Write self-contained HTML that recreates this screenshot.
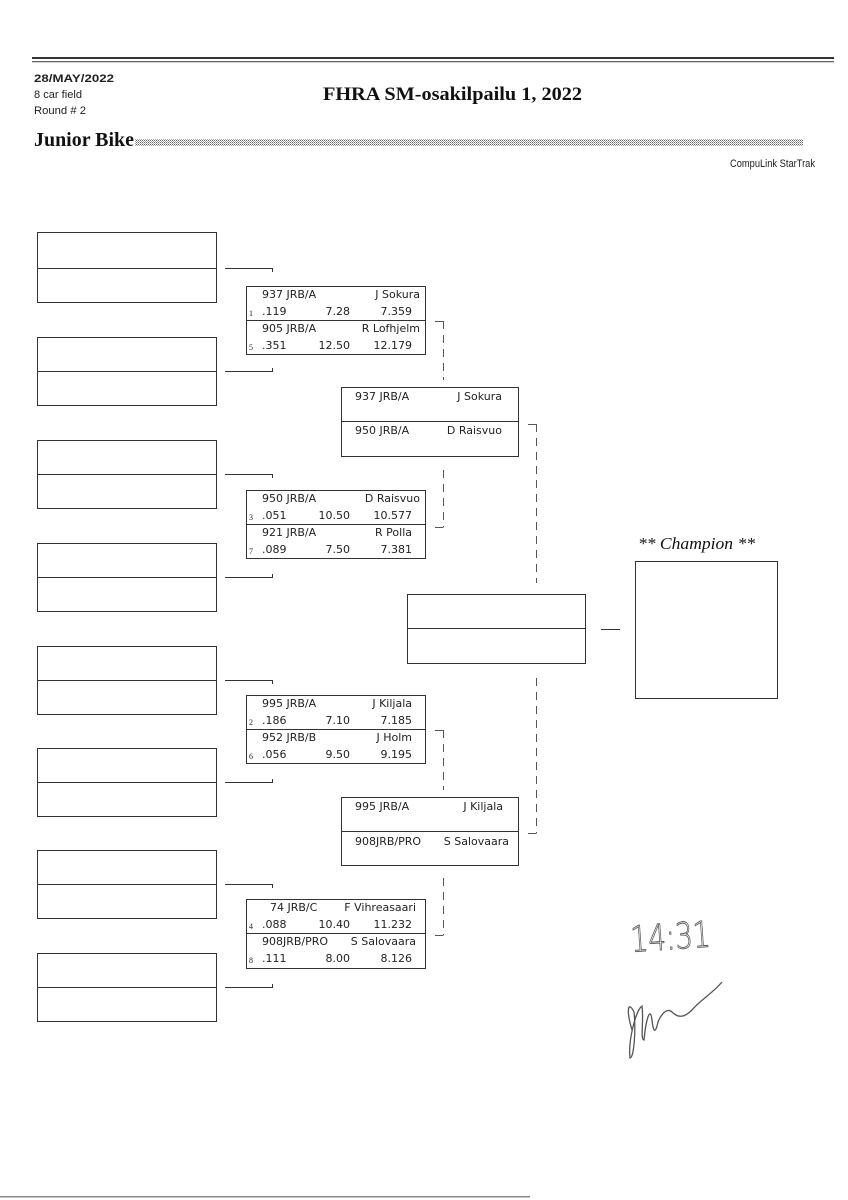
<!DOCTYPE html>
<html><head><meta charset="utf-8"><style>
html,body{margin:0;padding:0;background:#fff;}
svg{display:block;}
.m{font-family:"DejaVu Sans","Liberation Sans",sans-serif;font-size:11px;fill:#222;}
.s{font-family:"Liberation Serif",serif;font-size:8px;fill:#222;}
</style></head><body>
<svg width="848" height="1200" viewBox="0 0 848 1200" xmlns="http://www.w3.org/2000/svg">
<defs>
<pattern id="dots" width="2" height="2" patternUnits="userSpaceOnUse"><rect width="1" height="1" fill="#666"/><rect x="1" y="1" width="1" height="1" fill="#aaa"/></pattern>
</defs>
<rect x="32" y="57" width="802" height="2" fill="#333"/>
<rect x="32" y="61" width="802" height="1.3" fill="#666"/>
<text x="34" y="82" font-family="Liberation Sans,sans-serif" font-weight="bold" font-size="11" fill="#222" textLength="80" lengthAdjust="spacingAndGlyphs">28/MAY/2022</text>
<text x="34" y="98" font-family="Liberation Sans,sans-serif" font-size="11" fill="#222" textLength="48" lengthAdjust="spacingAndGlyphs">8 car field</text>
<text x="34" y="114" font-family="Liberation Sans,sans-serif" font-size="11" fill="#222" textLength="52" lengthAdjust="spacingAndGlyphs">Round # 2</text>
<text x="323" y="100" font-family="Liberation Serif,serif" font-weight="bold" font-size="19" fill="#111" textLength="259" lengthAdjust="spacingAndGlyphs">FHRA SM-osakilpailu 1, 2022</text>
<text x="34" y="146" font-family="Liberation Serif,serif" font-weight="bold" font-size="20" fill="#111" textLength="100" lengthAdjust="spacingAndGlyphs">Junior Bike</text>
<rect x="135" y="139" width="668" height="7" fill="url(#dots)"/>
<text x="815" y="167" text-anchor="end" font-family="Liberation Sans,sans-serif" font-size="11" fill="#222" textLength="85" lengthAdjust="spacingAndGlyphs">CompuLink StarTrak</text>

<g fill="none" stroke="#333" stroke-width="1">
<rect x="37.5" y="232.5" width="179" height="70"/><line x1="37" y1="268.5" x2="216" y2="268.5"/>
<rect x="37.5" y="337.5" width="179" height="68"/><line x1="37" y1="371.5" x2="216" y2="371.5"/>
<rect x="37.5" y="440.5" width="179" height="68"/><line x1="37" y1="474.5" x2="216" y2="474.5"/>
<rect x="37.5" y="543.5" width="179" height="68"/><line x1="37" y1="577.5" x2="216" y2="577.5"/>
<rect x="37.5" y="646.5" width="179" height="68"/><line x1="37" y1="680.5" x2="216" y2="680.5"/>
<rect x="37.5" y="748.5" width="179" height="68"/><line x1="37" y1="782.5" x2="216" y2="782.5"/>
<rect x="37.5" y="850.5" width="179" height="68"/><line x1="37" y1="884.5" x2="216" y2="884.5"/>
<rect x="37.5" y="953.5" width="179" height="68"/><line x1="37" y1="987.5" x2="216" y2="987.5"/>
<path d="M225 268.5H272.5V272"/><path d="M225 371.5H272.5V368"/>
<path d="M225 474.5H272.5V478"/><path d="M225 577.5H272.5V574"/>
<path d="M225 680.5H272.5V684"/><path d="M225 782.5H272.5V779"/>
<path d="M225 884.5H272.5V888"/><path d="M225 987.5H272.5V984"/>
<rect x="246.5" y="286.5" width="179" height="68"/><line x1="246" y1="320.5" x2="425" y2="320.5"/>
<rect x="246.5" y="490.5" width="179" height="68"/><line x1="246" y1="524.5" x2="425" y2="524.5"/>
<rect x="246.5" y="695.5" width="179" height="68"/><line x1="246" y1="729.5" x2="425" y2="729.5"/>
<rect x="246.5" y="899.5" width="179" height="69"/><line x1="246" y1="933.5" x2="425" y2="933.5"/>
<rect x="341.5" y="387.5" width="177" height="69"/><line x1="341" y1="421.5" x2="518" y2="421.5"/>
<rect x="341.5" y="797.5" width="177" height="68"/><line x1="341" y1="831.5" x2="518" y2="831.5"/>
<rect x="407.5" y="594.5" width="178" height="69"/><line x1="407" y1="628.5" x2="585" y2="628.5"/>
<line x1="601" y1="629.5" x2="620" y2="629.5"/>
<rect x="635.5" y="561.5" width="142" height="137"/>
</g>
<g fill="none" stroke="#555" stroke-width="1">
<path d="M435 321.5H443.5"/><path d="M435 527.5H443.5"/>
<path d="M435 730.5H443.5"/><path d="M435 935.5H443.5"/>
<path d="M528 424.5H536.5"/><path d="M528 833.5H536.5"/>
</g>
<g fill="none" stroke="#555" stroke-width="1" stroke-dasharray="8,6">
<line x1="443.5" y1="321" x2="443.5" y2="380"/>
<line x1="443.5" y1="470" x2="443.5" y2="527"/>
<line x1="443.5" y1="730" x2="443.5" y2="790"/>
<line x1="443.5" y1="878" x2="443.5" y2="935"/>
<line x1="536.5" y1="424" x2="536.5" y2="583"/>
<line x1="536.5" y1="678" x2="536.5" y2="833"/>
</g>

<g class="m">
<text x="262" y="298">937 JRB/A</text><text x="420" y="298" text-anchor="end">J Sokura</text>
<text x="262" y="315">.119</text><text x="350" y="315" text-anchor="end">7.28</text><text x="412" y="315" text-anchor="end">7.359</text>
<text x="262" y="332">905 JRB/A</text><text x="420" y="332" text-anchor="end">R Lofhjelm</text>
<text x="262" y="349">.351</text><text x="350" y="349" text-anchor="end">12.50</text><text x="412" y="349" text-anchor="end">12.179</text>

<text x="262" y="502">950 JRB/A</text><text x="420" y="502" text-anchor="end">D Raisvuo</text>
<text x="262" y="519">.051</text><text x="350" y="519" text-anchor="end">10.50</text><text x="412" y="519" text-anchor="end">10.577</text>
<text x="262" y="536">921 JRB/A</text><text x="412" y="536" text-anchor="end">R Polla</text>
<text x="262" y="553">.089</text><text x="350" y="553" text-anchor="end">7.50</text><text x="412" y="553" text-anchor="end">7.381</text>

<text x="262" y="707">995 JRB/A</text><text x="412" y="707" text-anchor="end">J Kiljala</text>
<text x="262" y="724">.186</text><text x="350" y="724" text-anchor="end">7.10</text><text x="412" y="724" text-anchor="end">7.185</text>
<text x="262" y="741">952 JRB/B</text><text x="412" y="741" text-anchor="end">J Holm</text>
<text x="262" y="758">.056</text><text x="350" y="758" text-anchor="end">9.50</text><text x="412" y="758" text-anchor="end">9.195</text>

<text x="270" y="911">74 JRB/C</text><text x="416" y="911" text-anchor="end">F Vihreasaari</text>
<text x="262" y="928">.088</text><text x="350" y="928" text-anchor="end">10.40</text><text x="412" y="928" text-anchor="end">11.232</text>
<text x="262" y="945">908JRB/PRO</text><text x="416" y="945" text-anchor="end">S Salovaara</text>
<text x="262" y="962">.111</text><text x="350" y="962" text-anchor="end">8.00</text><text x="412" y="962" text-anchor="end">8.126</text>

<text x="355" y="400">937 JRB/A</text><text x="502" y="400" text-anchor="end">J Sokura</text>
<text x="355" y="434">950 JRB/A</text><text x="502" y="434" text-anchor="end">D Raisvuo</text>
<text x="355" y="810">995 JRB/A</text><text x="503" y="810" text-anchor="end">J Kiljala</text>
<text x="355" y="845">908JRB/PRO</text><text x="509" y="845" text-anchor="end">S Salovaara</text>
</g>
<g class="s">
<text x="249" y="316">1</text><text x="249" y="350">5</text>
<text x="249" y="520">3</text><text x="249" y="554">7</text>
<text x="249" y="725">2</text><text x="249" y="759">6</text>
<text x="249" y="929">4</text><text x="249" y="963">8</text>
</g>
<text x="638" y="549" font-family="Liberation Serif,serif" font-style="italic" font-size="17" fill="#111" textLength="117" lengthAdjust="spacingAndGlyphs">** Champion **</text>

<text x="630" y="950" font-family="DejaVu Sans,sans-serif" font-weight="200" font-size="36" fill="none" stroke="#555" stroke-width="0.9" textLength="80" lengthAdjust="spacingAndGlyphs" transform="rotate(-4 660 930)">14:31</text>
<path d="M632 1030 C626 1010 628 1000 634 1012 C636 1030 634 1058 630 1058 C628 1040 636 1010 642 1006 C644 1020 640 1040 644 1040 C646 1020 650 1005 652 1020 C653 1030 655 1036 658 1022 C662 1012 668 1008 672 1012 C678 1018 684 1018 692 1010 C700 1000 712 994 722 982" fill="none" stroke="#555" stroke-width="1.3"/>

<rect x="0" y="1196" width="530" height="1.5" fill="#888"/>
</svg>
</body></html>
